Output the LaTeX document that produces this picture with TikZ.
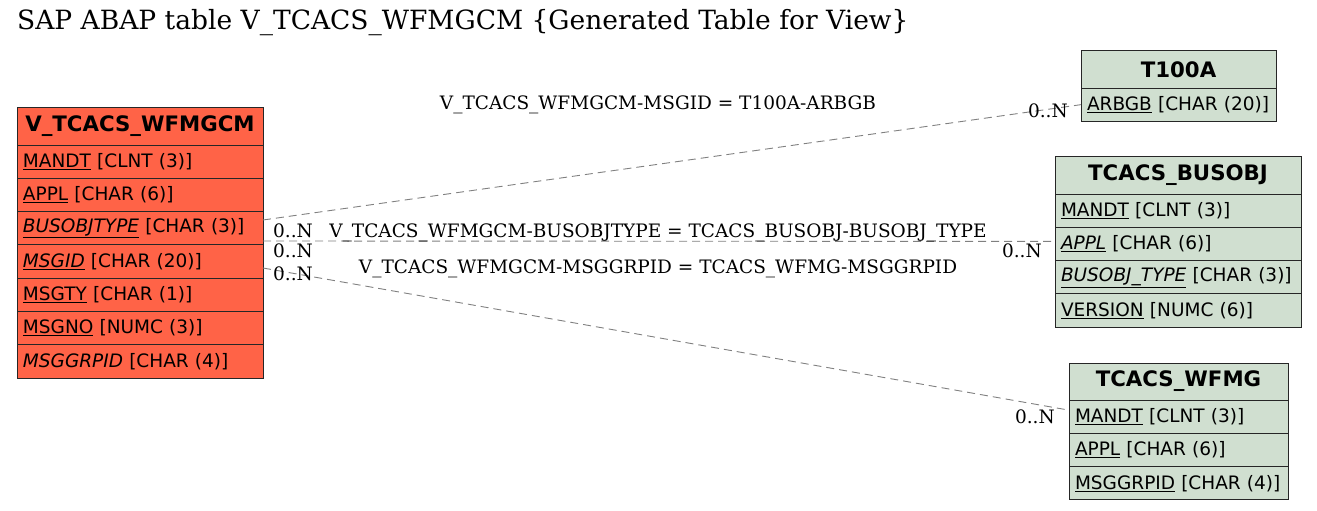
\documentclass[tikz,border=0pt]{standalone}
\usepackage{fontspec}
\setmainfont{DejaVu Serif}
\setsansfont{DejaVu Sans}
\usepackage{tikz}
\usetikzlibrary{positioning}

\definecolor{vfill}{HTML}{FF6347}
\definecolor{rfill}{HTML}{D0DFD0}

\newcommand{\ky}[1]{\underline{#1}}
\newcommand{\iky}[1]{\underline{\textit{#1}}}

\tikzset{
  tbl/.style={draw=black!85, line width=1pt, inner sep=0pt, outer sep=0pt,
    font=\sffamily\fontsize{18.5}{22}\selectfont},
  hdr/.style={tbl, font=\sffamily\bfseries\fontsize{21.3}{25}\selectfont,
    minimum width=#1, minimum height=38, anchor=north west},
  fld/.style={tbl, text width=#1-12, inner xsep=6pt, align=left,
    minimum height=33.3},
  rel/.style={draw=gray, line width=0.9pt, dash pattern=on 8pt off 5pt},
  lbl/.style={font=\fontsize{18.5}{22}\selectfont, inner sep=0pt},
}

\begin{document}
\begin{tikzpicture}

\begin{scope}[x=1pt,y=-1pt]
  \useasboundingbox (0,0) rectangle (1317,511);

  \node[anchor=base west, inner sep=0pt] (ttl) at (17,30)
    {\fontsize{26.5}{30}\selectfont SAP ABAP table V\_TCACS\_WFMGCM \{Generated Table for View\}};

  % main table
  \node[hdr=246, fill=vfill] (v0) at (17,107) {V\_TCACS\_WFMGCM};
  \node[fld=246, fill=vfill, below=0pt of v0] (v1) {\ky{MANDT} [CLNT (3)]};
  \node[fld=246, fill=vfill, below=0pt of v1] (v2) {\ky{APPL} [CHAR (6)]};
  \node[fld=246, fill=vfill, below=0pt of v2] (v3) {\iky{BUSOBJTYPE} [CHAR (3)]};
  \node[fld=246, fill=vfill, below=0pt of v3] (v4) {\iky{MSGID} [CHAR (20)]};
  \node[fld=246, fill=vfill, below=0pt of v4] (v5) {\ky{MSGTY} [CHAR (1)]};
  \node[fld=246, fill=vfill, below=0pt of v5] (v6) {\ky{MSGNO} [NUMC (3)]};
  \node[fld=246, fill=vfill, below=0pt of v6] (v7) {\textit{MSGGRPID} [CHAR (4)]};

  % T100A
  \node[hdr=195, fill=rfill, minimum height=37] (t0) at (1081,51) {T100A};
  \node[fld=195, fill=rfill, below=0pt of t0] (t1) {\ky{ARBGB} [CHAR (20)]};

  % TCACS_BUSOBJ
  \node[hdr=246, fill=rfill] (b0) at (1055,156) {TCACS\_BUSOBJ};
  \node[fld=246, fill=rfill, below=0pt of b0] (b1) {\ky{MANDT} [CLNT (3)]};
  \node[fld=246, fill=rfill, below=0pt of b1] (b2) {\iky{APPL} [CHAR (6)]};
  \node[fld=246, fill=rfill, below=0pt of b2] (b3) {\iky{BUSOBJ\_TYPE} [CHAR (3)]};
  \node[fld=246, fill=rfill, below=0pt of b3] (b4) {\ky{VERSION} [NUMC (6)]};

  % TCACS_WFMG
  \node[hdr=219, fill=rfill, minimum height=37] (w0) at (1069,363) {TCACS\_WFMG};
  \node[fld=219, fill=rfill, below=0pt of w0] (w1) {\ky{MANDT} [CLNT (3)]};
  \node[fld=219, fill=rfill, below=0pt of w1] (w2) {\ky{APPL} [CHAR (6)]};
  \node[fld=219, fill=rfill, below=0pt of w2] (w3) {\ky{MSGGRPID} [CHAR (4)]};

  % relations
  \coordinate (s1) at (263,220);
  \coordinate (s2) at (263,241);
  \coordinate (s3) at (263,268);
  \draw[rel] (s1) -- (t1.west);
  \draw[rel] (s2) -- ([yshift=2.5]b2.west);
  \draw[rel] (s3) -- ([yshift=6.5]w1.west);

  \node[lbl, anchor=base] (l1) at (658,110) {V\_TCACS\_WFMGCM-MSGID = T100A-ARBGB};
  \node[lbl, anchor=base] (l2) at (658,237) {V\_TCACS\_WFMGCM-BUSOBJTYPE = TCACS\_BUSOBJ-BUSOBJ\_TYPE};
  \node[lbl, anchor=base] (l3) at (658,273) {V\_TCACS\_WFMGCM-MSGGRPID = TCACS\_WFMG-MSGGRPID};

  \node[lbl, anchor=base west] (c1) at (273,237) {0..N};
  \node[lbl, anchor=base west] (c2) at (273,257) {0..N};
  \node[lbl, anchor=base west] (c3) at (273,280) {0..N};
  \node[lbl, anchor=base east] (c4) at (1068,117) {0..N};
  \node[lbl, anchor=base east] (c5) at (1042,257) {0..N};
  \node[lbl, anchor=base east] (c6) at (1055,423) {0..N};
\end{scope}

\end{tikzpicture}
\end{document}
